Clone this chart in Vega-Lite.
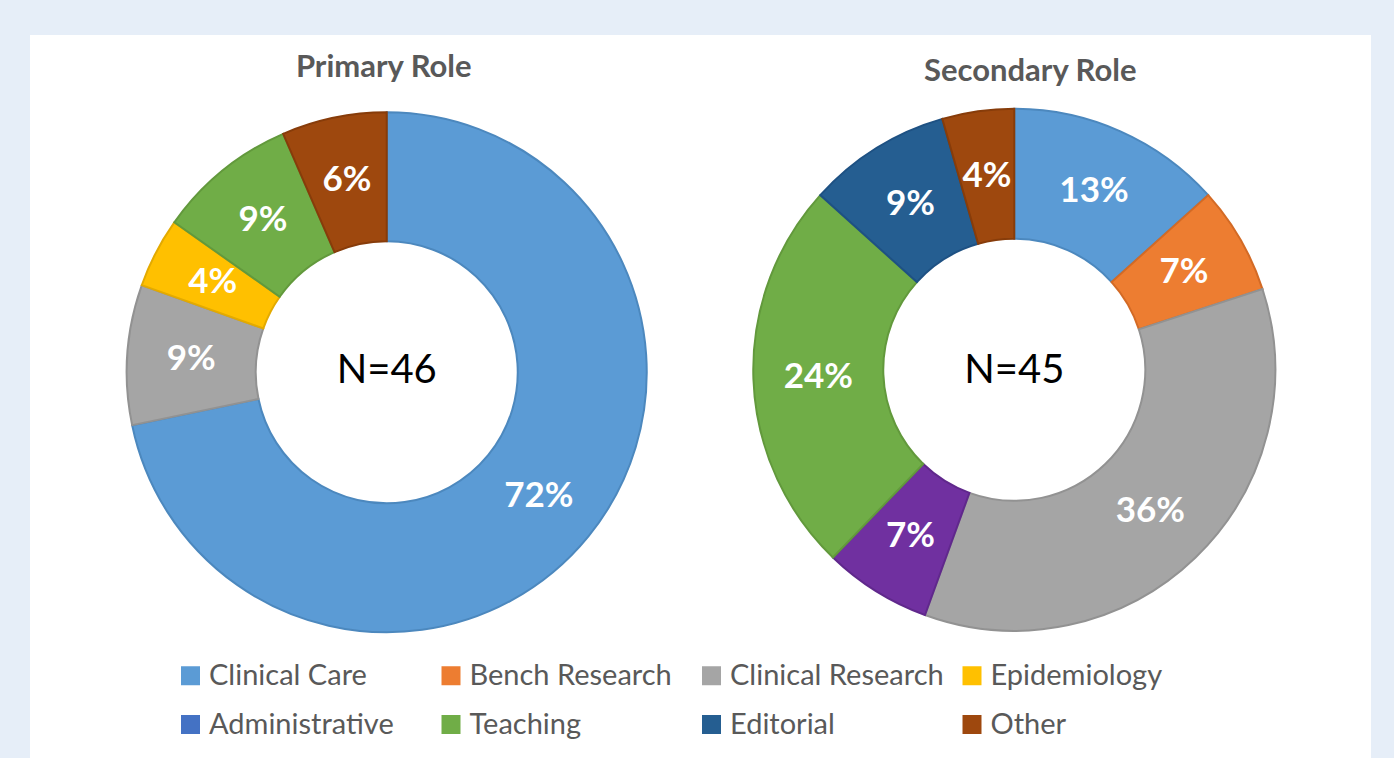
{
  "$schema": "https://vega.github.io/schema/vega-lite/v6.json",
  "width": 1341,
  "height": 723,
  "autosize": {"type": "none"},
  "padding": {"left": 30, "top": 35, "right": 23, "bottom": 0},
  "background": "#e6eef8",
  "config": {"view": {"fill": "white", "stroke": null}, "font": "Lato"},
  "datasets": {
    "slices": [
      {"chart": "Primary Role", "role": "Clinical Care", "idx": 1, "count": 33, "share": 0.72},
      {"chart": "Primary Role", "role": "Clinical Research", "idx": 3, "count": 4, "share": 0.09},
      {"chart": "Primary Role", "role": "Epidemiology", "idx": 4, "count": 2, "share": 0.04},
      {"chart": "Primary Role", "role": "Teaching", "idx": 6, "count": 4, "share": 0.09},
      {"chart": "Primary Role", "role": "Other", "idx": 8, "count": 3, "share": 0.06},
      {"chart": "Secondary Role", "role": "Clinical Care", "idx": 1, "count": 6, "share": 0.13},
      {"chart": "Secondary Role", "role": "Bench Research", "idx": 2, "count": 3, "share": 0.07},
      {"chart": "Secondary Role", "role": "Clinical Research", "idx": 3, "count": 16, "share": 0.36},
      {"chart": "Secondary Role", "role": "Administrative", "idx": 5, "count": 3, "share": 0.07},
      {"chart": "Secondary Role", "role": "Teaching", "idx": 6, "count": 11, "share": 0.24},
      {"chart": "Secondary Role", "role": "Editorial", "idx": 7, "count": 4, "share": 0.09},
      {"chart": "Secondary Role", "role": "Other", "idx": 8, "count": 2, "share": 0.04}
    ],
    "charts": [
      {"chart": "Primary Role", "n": "N=46"},
      {"chart": "Secondary Role", "n": "N=45"}
    ]
  },
  "encoding": {
    "x": {"field": "chart", "type": "nominal", "axis": null,
          "scale": {"type": "point", "domain": ["Primary Role", "Secondary Role"], "padding": 0.5685}}
  },
  "layer": [
    {
      "data": {"name": "slices"},
      "transform": [{"filter": "datum.chart === 'Primary Role'"}],
      "mark": {"type": "arc", "innerRadius": 131, "outerRadius": 260, "strokeWidth": 2, "y": {"expr": "height*0.4665"}},
      "encoding": {
        "theta": {"field": "count", "type": "quantitative", "stack": "normalize"},
        "order": {"field": "idx", "type": "quantitative"},
        "color": {
          "field": "role",
          "type": "nominal",
          "condition": {"test": "datum.role === 'Administrative'", "value": "#7030a0"},
          "scale": {
            "domain": ["Clinical Care", "Bench Research", "Clinical Research", "Epidemiology", "Administrative", "Teaching", "Editorial", "Other"],
            "range": ["#5b9bd5", "#ed7d31", "#a5a5a5", "#ffc000", "#4472c4", "#70ad47", "#255e91", "#9e480e"]
          },
          "legend": {
            "orient": "none",
            "legendX": 146,
            "legendY": 626,
            "direction": "horizontal",
            "columns": 4,
            "gridAlign": "all",
            "title": null,
            "symbolType": "square",
            "symbolSize": 361,
            "symbolStrokeWidth": 0,
            "labelFontSize": 29,
            "labelColor": "#595959",
            "labelFont": "Lato",
            "labelOffset": 4,
            "labelLimit": 400,
            "columnPadding": 13.5,
            "rowPadding": 19,
            "padding": 0
          }
        },
        "stroke": {
          "field": "role",
          "type": "nominal",
          "legend": null,
          "scale": {
            "domain": ["Clinical Care", "Bench Research", "Clinical Research", "Epidemiology", "Administrative", "Teaching", "Editorial", "Other"],
            "range": ["#4c88be", "#d36a25", "#929292", "#e3aa00", "#60288c", "#62993c", "#1e5183", "#873c0a"]
          }
        }
      }
    },
    {
      "data": {"name": "slices"},
      "transform": [{"filter": "datum.chart === 'Primary Role'"}],
      "mark": {"type": "text", "radius": 196, "fill": "white", "fontWeight": "bold", "fontSize": 35, "align": "center", "baseline": "middle", "y": {"expr": "height*0.4665"}},
      "encoding": {
        "theta": {"field": "count", "type": "quantitative", "stack": "normalize"},
        "order": {"field": "idx", "type": "quantitative"},
        "detail": {"field": "role", "type": "nominal"},
        "text": {"field": "share", "type": "quantitative", "format": ".0%"}
      }
    },
    {
      "data": {"name": "slices"},
      "transform": [{"filter": "datum.chart === 'Secondary Role'"}],
      "mark": {"type": "arc", "innerRadius": 131, "outerRadius": 261, "strokeWidth": 2, "y": {"expr": "height*0.463"}},
      "encoding": {
        "theta": {"field": "count", "type": "quantitative", "stack": "normalize"},
        "order": {"field": "idx", "type": "quantitative"},
        "color": {
          "field": "role",
          "type": "nominal",
          "condition": {"test": "datum.role === 'Administrative'", "value": "#7030a0"}
        },
        "stroke": {"field": "role", "type": "nominal", "legend": null}
      }
    },
    {
      "data": {"name": "slices"},
      "transform": [{"filter": "datum.chart === 'Secondary Role'"}],
      "mark": {"type": "text", "radius": 196, "fill": "white", "fontWeight": "bold", "fontSize": 35, "align": "center", "baseline": "middle", "y": {"expr": "height*0.463"}},
      "encoding": {
        "theta": {"field": "count", "type": "quantitative", "stack": "normalize"},
        "order": {"field": "idx", "type": "quantitative"},
        "detail": {"field": "role", "type": "nominal"},
        "text": {"field": "share", "type": "quantitative", "format": ".0%"}
      }
    },
    {
      "data": {"name": "charts"},
      "mark": {"type": "text", "fontSize": 40, "color": "#000000", "align": "center", "baseline": "middle", "y": {"expr": "height*0.4645"}},
      "encoding": {"text": {"field": "n", "type": "nominal"}}
    },
    {
      "data": {"name": "charts"},
      "transform": [{"filter": "datum.chart === 'Primary Role'"}],
      "mark": {"type": "text", "fontSize": 31, "fontWeight": "bold", "color": "#595959", "align": "center", "baseline": "alphabetic", "dx": -3, "y": {"expr": "height*0.0581"}},
      "encoding": {"text": {"field": "chart", "type": "nominal"}}
    },
    {
      "data": {"name": "charts"},
      "transform": [{"filter": "datum.chart === 'Secondary Role'"}],
      "mark": {"type": "text", "fontSize": 31, "fontWeight": "bold", "color": "#595959", "align": "center", "baseline": "alphabetic", "dx": 16, "y": {"expr": "height*0.0637"}},
      "encoding": {"text": {"field": "chart", "type": "nominal"}}
    }
  ]
}
